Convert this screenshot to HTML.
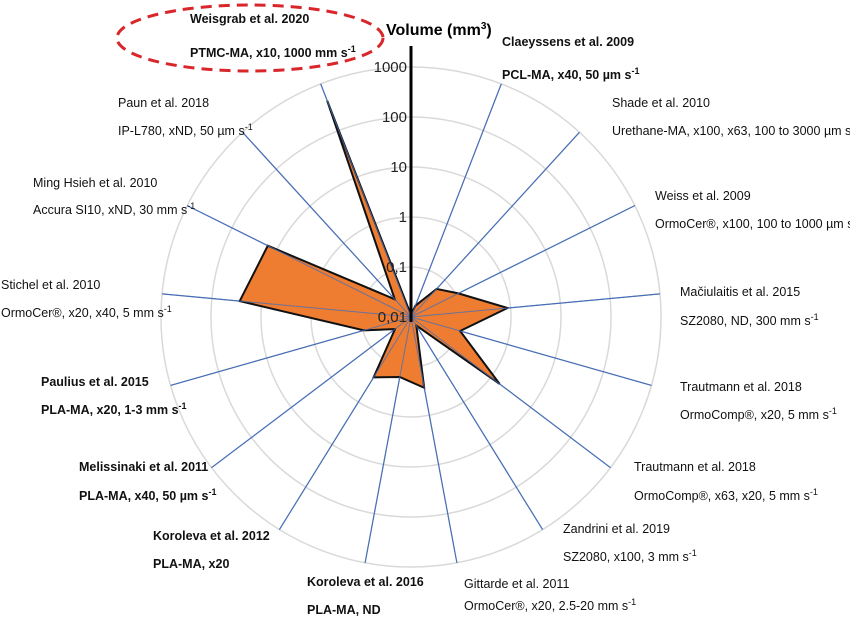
<!DOCTYPE html>
<html><head><meta charset="utf-8"><style>
html,body{margin:0;padding:0;background:#fff;}
svg{display:block;font-family:"Liberation Sans",Arial,sans-serif;}
.l{font-size:12.5px;fill:#111;}
.b{font-weight:bold;}
.t{font-size:15px;fill:#222;text-anchor:end;}
</style></head><body>
<svg width="850" height="617" viewBox="0 0 850 617" xmlns="http://www.w3.org/2000/svg">
<g fill="none" stroke="#d9d9d9" stroke-width="1.5">
<circle cx="411" cy="317" r="50"/><circle cx="411" cy="317" r="100"/><circle cx="411" cy="317" r="150"/><circle cx="411" cy="317" r="200"/><circle cx="411" cy="317" r="250"/>
</g>
<g stroke="#4a6fb5" stroke-width="1.2">
<line x1="411" y1="317" x2="501.3" y2="83.9"/><line x1="411" y1="317" x2="579.4" y2="132.3"/><line x1="411" y1="317" x2="634.8" y2="205.6"/><line x1="411" y1="317" x2="659.9" y2="293.9"/><line x1="411" y1="317" x2="651.5" y2="385.4"/><line x1="411" y1="317" x2="610.5" y2="467.7"/><line x1="411" y1="317" x2="542.6" y2="529.6"/><line x1="411" y1="317" x2="456.9" y2="562.8"/><line x1="411" y1="317" x2="365.1" y2="562.8"/><line x1="411" y1="317" x2="279.4" y2="529.6"/><line x1="411" y1="317" x2="211.5" y2="467.7"/><line x1="411" y1="317" x2="170.6" y2="385.4"/><line x1="411" y1="317" x2="162.1" y2="293.9"/><line x1="411" y1="317" x2="187.2" y2="205.6"/><line x1="411" y1="317" x2="242.6" y2="132.3"/><line x1="411" y1="317" x2="320.7" y2="83.9"/>
</g>
<polygon fill="#ee7d31" stroke="#111" stroke-width="2" points="411,315 415.3,305.8 436.6,288.9 458.4,293.4 507.6,308 460.1,331 499.6,383.9 416.3,325.5 424.2,387.8 399.8,377 373.6,377.4 395,329.1 363.9,330.4 239.7,301.1 267.8,245.7 394.8,299.3 327.2,100.7"/>
<g stroke="#4a6fb5" stroke-width="1" opacity="0.8">
<line x1="411" y1="317" x2="501.3" y2="83.9"/><line x1="411" y1="317" x2="579.4" y2="132.3"/><line x1="411" y1="317" x2="634.8" y2="205.6"/><line x1="411" y1="317" x2="659.9" y2="293.9"/><line x1="411" y1="317" x2="651.5" y2="385.4"/><line x1="411" y1="317" x2="610.5" y2="467.7"/><line x1="411" y1="317" x2="542.6" y2="529.6"/><line x1="411" y1="317" x2="456.9" y2="562.8"/><line x1="411" y1="317" x2="365.1" y2="562.8"/><line x1="411" y1="317" x2="279.4" y2="529.6"/><line x1="411" y1="317" x2="211.5" y2="467.7"/><line x1="411" y1="317" x2="170.6" y2="385.4"/><line x1="411" y1="317" x2="162.1" y2="293.9"/><line x1="411" y1="317" x2="187.2" y2="205.6"/><line x1="411" y1="317" x2="242.6" y2="132.3"/><line x1="411" y1="317" x2="320.7" y2="83.9"/>
</g>
<line x1="411" y1="46" x2="411" y2="322" stroke="#000" stroke-width="3"/>
<text x="386" y="35" style="font-size:16px;font-weight:bold">Volume (mm<tspan dy="-6" font-size="10">3</tspan><tspan dy="6">)</tspan></text>
<text class="t" x="407" y="72">1000</text>
<text class="t" x="407" y="122">100</text>
<text class="t" x="407" y="172">10</text>
<text class="t" x="407" y="222">1</text>
<text class="t" x="407" y="272">0,1</text>
<text class="t" x="407" y="322">0,01</text>
<ellipse cx="250" cy="38" rx="133" ry="33" fill="none" stroke="#d9262b" stroke-width="3" stroke-dasharray="11,7"/>
<g class="l">
<text class="b" x="190" y="23">Weisgrab et al. 2020</text>
<text class="b" x="190" y="57">PTMC-MA, x10, 1000 mm s<tspan dy="-5" font-size="9">-1</tspan></text>
<text class="b" x="502" y="46">Claeyssens et al. 2009</text>
<text class="b" x="502" y="79">PCL-MA, x40, 50 µm s<tspan dy="-5" font-size="9">-1</tspan></text>
<text x="612" y="107">Shade et al. 2010</text>
<text x="612" y="135">Urethane-MA, x100, x63, 100 to 3000 µm s<tspan dy="-5" font-size="9">-1</tspan></text>
<text x="655" y="200">Weiss et al. 2009</text>
<text x="655" y="228">OrmoCer®, x100, 100 to 1000 µm s<tspan dy="-5" font-size="9">-1</tspan></text>
<text x="680" y="296">Mačiulaitis et al. 2015</text>
<text x="680" y="325">SZ2080, ND, 300 mm s<tspan dy="-5" font-size="9">-1</tspan></text>
<text x="680" y="391">Trautmann et al. 2018</text>
<text x="680" y="419">OrmoComp®, x20, 5 mm s<tspan dy="-5" font-size="9">-1</tspan></text>
<text x="634" y="471">Trautmann et al. 2018</text>
<text x="634" y="500">OrmoComp®, x63, x20, 5 mm s<tspan dy="-5" font-size="9">-1</tspan></text>
<text x="563" y="533">Zandrini et al. 2019</text>
<text x="563" y="561">SZ2080, x100, 3 mm s<tspan dy="-5" font-size="9">-1</tspan></text>
<text x="464" y="588">Gittarde et al. 2011</text>
<text x="464" y="610">OrmoCer®, x20, 2.5-20 mm s<tspan dy="-5" font-size="9">-1</tspan></text>
<text class="b" x="307" y="586">Koroleva et al. 2016</text>
<text class="b" x="307" y="614">PLA-MA, ND</text>
<text class="b" x="153" y="540">Koroleva et al. 2012</text>
<text class="b" x="153" y="568">PLA-MA, x20</text>
<text class="b" x="79" y="471">Melissinaki et al. 2011</text>
<text class="b" x="79" y="500">PLA-MA, x40, 50 µm s<tspan dy="-5" font-size="9">-1</tspan></text>
<text class="b" x="41" y="386">Paulius et al. 2015</text>
<text class="b" x="41" y="414">PLA-MA, x20, 1-3 mm s<tspan dy="-5" font-size="9">-1</tspan></text>
<text x="1" y="289">Stichel et al. 2010</text>
<text x="1" y="317">OrmoCer®, x20, x40, 5 mm s<tspan dy="-5" font-size="9">-1</tspan></text>
<text x="33" y="187">Ming Hsieh et al. 2010</text>
<text x="33" y="214">Accura SI10, xND, 30 mm s<tspan dy="-5" font-size="9">-1</tspan></text>
<text x="118" y="107">Paun et al. 2018</text>
<text x="118" y="135">IP-L780, xND, 50 µm s<tspan dy="-5" font-size="9">-1</tspan></text>
</g>
</svg>
</body></html>
